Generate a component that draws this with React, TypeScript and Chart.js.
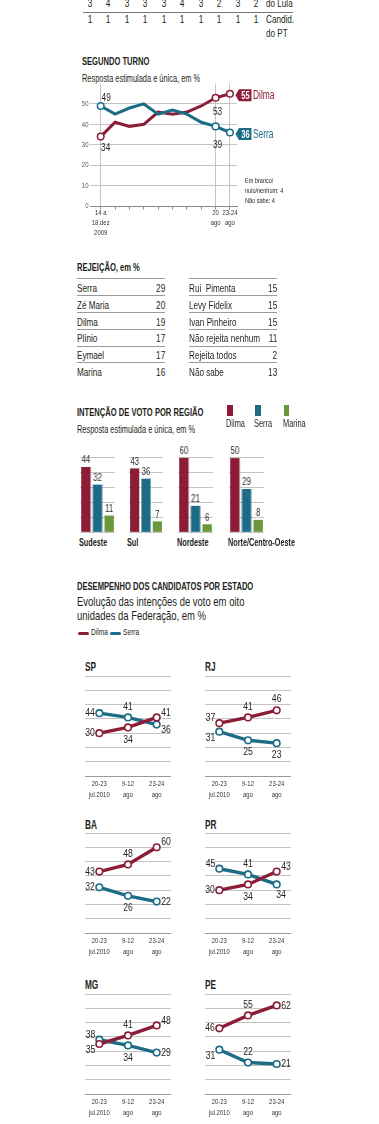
import React, { useEffect, useRef } from "react";
import { Chart, registerables } from "chart.js";

Chart.register(...registerables);

// ---------- DATA ----------
const topRowLula = [3, 4, 3, 3, 3, 4, 3, 2, 3, 2];
const topRowPT = [1, 1, 1, 1, 1, 1, 1, 1, 1, 1];

const turnoDates: (string | string[])[] = [["14 a", "18.dez", "2009"], "", "", "", "", "", "", "", ["20", "ago"], ["23-24", "ago"]];
const turnoDilma = [34, 41, 39, 40, 46, 45, 46, 49, 53, 55];
const turnoSerra = [49, 45, 48, 50, 45, 47, 45, 41, 39, 36];
const turnoYTicks = [0, 10, 20, 30, 40, 50];
const turnoNotes = ["Em branco/", "nulo/nenhum: 4", "Não sabe: 4"];

const rejeicaoLeftNames = ["Serra", "Zé Maria", "Dilma", "Plínio", "Eymael", "Marina"];
const rejeicaoLeftValues = [29, 20, 19, 17, 17, 16];
const rejeicaoRightNames = ["Rui  Pimenta", "Levy Fidelix", "Ivan Pinheiro", "Não rejeita nenhum", "Rejeita todos", "Não sabe"];
const rejeicaoRightValues = [15, 15, 15, 11, 2, 13];

const regioes = ["Sudeste", "Sul", "Nordeste", "Norte/Centro-Oeste"];
const candidatosRegiao = ["Dilma", "Serra", "Marina"];
const regiaoDilma = [44, 43, 60, 50];
const regiaoSerra = [32, 36, 21, 29];
const regiaoMarina = [11, 7, 6, 8];
const regiaoEscalaMax = [51, 51, 61, 51];

const estados = ["SP", "RJ", "BA", "PR", "MG", "PE"];
const estadoDatas = [["20-23", "jul.2010"], ["9-12", "ago"], ["23-24", "ago"]];
const estadoDilma = [[30, 34, 41], [37, 41, 46], [43, 48, 60], [30, 34, 43], [35, 41, 48], [46, 55, 62]];
const estadoSerra = [[44, 41, 36], [31, 25, 23], [32, 26, 22], [45, 41, 34], [38, 34, 29], [31, 22, 21]];
const estadoYTicks = [0, 10, 20, 30, 40, 50, 60, 70];

// ---------- STYLE / LAYOUT ----------
const FONT = "'Liberation Sans', Arial, sans-serif";
const SX_R = 0.74; // horizontal condensing for regular text
const SX_B = 0.66; // for bold text
const SX_D = 0.75; // for digits on canvas
const DILMA = "#8b1d36";
const SERRA = "#1c6c88";
const MARINA = "#6b983c";
const GRID = "#c4c4c4";
const TEXT = "#231f20";
const W = 379;

const estadoPosDilma = [["l", "b", "ru"], ["lu", "a", "a"], ["l", "a", "ru"], ["l", "b", "ru"], ["ld", "a", "ru"], ["l", "a", "r"]];
const estadoPosSerra = [["l", "a", "rd"], ["ld", "b", "b"], ["l", "b", "r"], ["lu", "a", "br"], ["lu", "b", "r"], ["ld", "a", "r"]];
const POS: Record<string, [number, number, CanvasTextAlign]> = {
  l: [-4.5, 0, "right"],
  lu: [-4, -5, "right"],
  ld: [-4, 6, "right"],
  a: [0, -11, "center"],
  b: [0, 12, "center"],
  r: [4.5, 0, "left"],
  ru: [4.5, -5, "left"],
  rd: [4.5, 5, "left"],
  br: [-0.5, 10, "left"],
};

const stateAreaLeft = [85, 205];
const stateAreaTop = [675.5, 833, 993.5];
const regionAreaLeft = [80, 128.5, 178, 229];

function ctext(ctx: CanvasRenderingContext2D, text: string, x: number, y: number, align: CanvasTextAlign, k: number) {
  ctx.save();
  ctx.translate(x, y);
  ctx.scale(k, 1);
  ctx.textAlign = align;
  ctx.fillText(text, 0, 0);
  ctx.restore();
}

function Txt(props: any) {
  const { x, y, s, b, c, lh, align, children, sx } = props;
  const k = sx ?? (b ? SX_B : SX_R);
  const L = (lh ?? 1) * s;
  const top = y - (L / 2 - 0.3825 * s);
  const style: any = {
    position: "absolute",
    top,
    fontSize: s,
    fontWeight: b ? 700 : 400,
    color: c ?? TEXT,
    lineHeight: `${L}px`,
    whiteSpace: "pre",
    fontFamily: FONT,
    transform: `scaleX(${k})`,
  };
  if (align === "right") { style.right = W - x; style.transformOrigin = "right top"; style.textAlign = "right"; }
  else if (align === "center") { style.left = x - 50; style.width = 100; style.textAlign = "center"; style.transformOrigin = "center top"; }
  else { style.left = x; style.transformOrigin = "left top"; }
  return <div style={style}>{children}</div>;
}

function ChartCanvas({ left, top, width, height, config }: any) {
  const ref = useRef<HTMLCanvasElement>(null);
  useEffect(() => {
    const chart = new Chart(ref.current as HTMLCanvasElement, config());
    return () => chart.destroy();
  }, []);
  return (
    <canvas ref={ref} width={width} height={height} style={{ position: "absolute", left, top, width, height }} />
  );
}

// ---------- SEGUNDO TURNO ----------
const isMarked = (i: number) => turnoDates[i] !== "" && turnoDates[i] !== undefined;
const turnoPointLabels = [
  { series: 0, index: 0, dx: 5.5, dy: -8 },
  { series: 1, index: 0, dx: 5, dy: 11 },
  { series: 1, index: 8, dx: 2, dy: 14 },
  { series: 0, index: 8, dx: 2, dy: 18.5 },
];

function turnoConfig() {
  const seriesValues = [turnoSerra, turnoDilma];
  const names = ["Serra", "Dilma"];
  const colors = [SERRA, DILMA];
  const plugin = {
    id: "turnoLabels",
    afterDraw(chart: any) {
      const ctx = chart.ctx;
      const xs = chart.scales.x;
      const ys = chart.scales.y;
      ctx.save();
      ctx.textBaseline = "middle";
      // axis tick labels (from the scales' ticks)
      ctx.fillStyle = "#333";
      ctx.font = `400 8px ${FONT}`;
      xs.ticks.forEach((t: any) => {
        const lab = turnoDates[t.value];
        if (!lab) return;
        const lines = Array.isArray(lab) ? lab : [lab];
        const px = xs.getPixelForValue(t.value);
        lines.forEach((ln, j) => ctext(ctx, ln, px, xs.top + 6.5 + j * 10, "center", SX_R));
      });
      ctx.fillStyle = "#555";
      ys.ticks.forEach((t: any) => {
        ctext(ctx, String(t.value), chart.chartArea.left - 1.5, ys.getPixelForValue(t.value), "right", SX_D);
      });
      // point labels
      ctx.font = `400 11px ${FONT}`;
      ctx.fillStyle = TEXT;
      turnoPointLabels.forEach((p) => {
        const el = chart.getDatasetMeta(p.series).data[p.index];
        ctext(ctx, String(seriesValues[p.series][p.index]), el.x + p.dx, el.y + p.dy, "center", SX_D);
      });
      // end boxes
      seriesValues.forEach((vals, s) => {
        const last = vals.length - 1;
        const el = chart.getDatasetMeta(s).data[last];
        const x0 = el.x + 5.5;
        const cy = el.y + 1.5;
        ctx.fillStyle = colors[s];
        ctx.beginPath();
        ctx.moveTo(x0, cy);
        ctx.lineTo(x0 + 3.5, cy - 6);
        ctx.lineTo(x0 + 16, cy - 6);
        ctx.lineTo(x0 + 16, cy + 6);
        ctx.lineTo(x0 + 3.5, cy + 6);
        ctx.closePath();
        ctx.fill();
        ctx.fillStyle = "#fff";
        ctx.font = `700 11.5px ${FONT}`;
        ctext(ctx, String(vals[last]), x0 + 10, cy + 0.5, "center", SX_B);
        ctx.fillStyle = colors[s];
        ctx.font = `400 12px ${FONT}`;
        ctext(ctx, names[s], x0 + 17.5, cy + 0.5, "left", 0.7);
      });
      ctx.restore();
    },
  };
  return {
    type: "line",
    data: {
      datasets: seriesValues.map((vals, s) => ({
        label: names[s],
        data: vals.map((v, i) => ({ x: i, y: v })),
        borderColor: colors[s],
        borderWidth: 3,
        tension: 0,
        pointRadius: (c: any) => (isMarked(c.dataIndex) ? 3.3 : 0),
        pointBackgroundColor: "#fff",
        pointBorderColor: colors[s],
        pointBorderWidth: 1.5,
      })),
    },
    options: {
      responsive: false,
      animation: false,
      layout: { padding: { left: 0, right: 63, top: 3, bottom: 0 } },
      plugins: { legend: { display: false }, tooltip: { enabled: false } },
      scales: {
        x: {
          type: "linear",
          min: -0.745,
          max: 9.49,
          afterBuildTicks: (a: any) => { a.ticks = turnoDates.map((_, i) => ({ value: i })); },
          afterFit: (s: any) => { s.height = 47; },
          ticks: { display: false },
          grid: {
            color: (c: any) => (c.tick && isMarked(c.tick.value) ? GRID : "rgba(0,0,0,0)"),
            tickColor: "#8a8a8a",
            tickLength: 3.5,
            lineWidth: 1,
          },
          border: { display: true, color: "#8a8a8a" },
        },
        y: {
          min: 0,
          max: 60,
          afterBuildTicks: (a: any) => { a.ticks = turnoYTicks.map((v) => ({ value: v })); },
          afterFit: (s: any) => { s.width = 20; },
          ticks: { display: false },
          grid: { color: GRID, drawTicks: false },
          border: { display: false },
        },
      },
    },
    plugins: [plugin],
  };
}

// ---------- REGION BARS ----------
function regionConfig(r: number) {
  const values = [regiaoDilma[r], regiaoSerra[r], regiaoMarina[r]];
  const max = regiaoEscalaMax[r];
  const plugin = {
    id: "barValues" + r,
    afterDatasetsDraw(chart: any) {
      const ctx = chart.ctx;
      ctx.save();
      ctx.font = `400 10.5px ${FONT}`;
      ctx.fillStyle = TEXT;
      ctx.textBaseline = "alphabetic";
      chart.getDatasetMeta(0).data.forEach((el: any, i: number) => {
        ctext(ctx, String(values[i]), el.x, el.y - 4, "center", 0.72);
      });
      ctx.restore();
    },
  };
  return {
    type: "bar",
    data: {
      labels: candidatosRegiao,
      datasets: [{ data: values, backgroundColor: [DILMA, SERRA, MARINA], barThickness: 8.5 }],
    },
    options: {
      responsive: false,
      animation: false,
      layout: { padding: { left: 2, right: 2, top: 17, bottom: 3 } },
      plugins: { legend: { display: false }, tooltip: { enabled: false } },
      scales: {
        x: { display: false },
        y: {
          min: 0,
          max,
          afterBuildTicks: (a: any) => { a.ticks = [0, 1, 2, 3, 4, 5].map((k) => ({ value: (max * k) / 5 })); },
          afterFit: (s: any) => { s.width = 0; },
          ticks: { display: false },
          grid: { color: GRID, drawTicks: false },
          border: { display: false },
        },
      },
    },
    plugins: [plugin],
  };
}

// ---------- STATES ----------
function stateConfig(k: number) {
  const series = [estadoDilma[k], estadoSerra[k]];
  const colors = [DILMA, SERRA];
  const pos = [estadoPosDilma[k], estadoPosSerra[k]];
  const plugin = {
    id: "stateLabels" + k,
    afterDraw(chart: any) {
      const ctx = chart.ctx;
      const xs = chart.scales.x;
      ctx.save();
      ctx.textBaseline = "middle";
      ctx.font = `400 8px ${FONT}`;
      ctx.fillStyle = "#333";
      xs.ticks.forEach((t: any) => {
        const lines = estadoDatas[t.value];
        if (!lines) return;
        const px = xs.getPixelForValue(t.value);
        lines.forEach((ln, j) => ctext(ctx, ln, px, chart.chartArea.bottom + 7.5 + j * 11, "center", SX_R));
      });
      ctx.font = `400 11.5px ${FONT}`;
      ctx.fillStyle = TEXT;
      series.forEach((vals, s) => {
        chart.getDatasetMeta(s).data.forEach((el: any, i: number) => {
          const [dx, dy, al] = POS[pos[s][i]];
          ctext(ctx, String(vals[i]), el.x + dx, el.y + dy, al, SX_D);
        });
      });
      ctx.restore();
    },
  };
  return {
    type: "line",
    data: {
      datasets: series.map((vals, s) => ({
        data: vals.map((v, i) => ({ x: i, y: v })),
        borderColor: colors[s],
        borderWidth: 3.4,
        tension: 0,
        pointRadius: 3.3,
        pointBackgroundColor: "#fff",
        pointBorderColor: colors[s],
        pointBorderWidth: 1.6,
      })),
    },
    options: {
      responsive: false,
      animation: false,
      layout: { padding: { left: 12, right: 12, top: 14, bottom: 0 } },
      plugins: { legend: { display: false }, tooltip: { enabled: false } },
      scales: {
        x: {
          type: "linear",
          min: -0.5,
          max: 2.5,
          afterBuildTicks: (a: any) => { a.ticks = estadoDatas.map((_, i) => ({ value: i })); },
          afterFit: (s: any) => { s.height = 30; },
          ticks: { display: false },
          grid: { display: false },
          border: { display: false },
        },
        y: {
          min: 0,
          max: 70,
          afterBuildTicks: (a: any) => { a.ticks = estadoYTicks.map((v) => ({ value: v })); },
          afterFit: (s: any) => { s.width = 0; },
          ticks: { display: false },
          grid: { color: (c: any) => (c.tick && c.tick.value === 0 ? "#9a9a9a" : GRID), drawTicks: false },
          border: { display: false },
        },
      },
    },
    plugins: [plugin],
  };
}

export default function App() {
  useEffect(() => {
    document.body.style.margin = "0";
  }, []);

  const rowTop = (i: number) => 278.3 + i * 16.8;

  return (
    <div
      style={{
        position: "absolute",
        left: 0,
        top: 0,
        width: W,
        height: 1124,
        overflow: "hidden",
        background: "#fff",
        fontFamily: FONT,
        color: TEXT,
      }}
    >
      {/* top table fragment */}
      {topRowLula.map((v, i) => (
        <Txt key={"l" + i} x={90 + i * 18.45} y={-0.5} s={11} align="center" sx={SX_D}>{String(v)}</Txt>
      ))}
      <Txt x={266} y={-0.5} s={11}>do Lula</Txt>
      <div style={{ position: "absolute", left: 83, top: 12, width: 210, height: 1, background: "#777" }} />
      {topRowPT.map((v, i) => (
        <Txt key={"p" + i} x={90 + i * 18.45} y={15} s={11} align="center" sx={SX_D}>{String(v)}</Txt>
      ))}
      <Txt x={266} y={15} s={11}>Candid.</Txt>
      <Txt x={266} y={29.5} s={11}>do PT</Txt>

      {/* segundo turno */}
      <Txt x={81.5} y={57} s={11.5} b>SEGUNDO TURNO</Txt>
      <Txt x={81.5} y={75} s={10}>Resposta estimulada e única, em %</Txt>
      <ChartCanvas left={70} top={78} width={230} height={175} config={turnoConfig} />
      {turnoNotes.map((t, i) => (
        <Txt key={t} x={245} y={178 + i * 10} s={7.5}>{t}</Txt>
      ))}

      {/* rejeição */}
      <Txt x={77} y={263.5} s={11.5} b>REJEIÇÃO, em %</Txt>
      {rejeicaoLeftNames.map((n, i) => (
        <React.Fragment key={n}>
          <div style={{ position: "absolute", left: 77, top: rowTop(i), width: 88, height: 1, background: "#9a9a9a" }} />
          <Txt x={77} y={rowTop(i) + 6} s={11}>{n}</Txt>
          <Txt x={165} y={rowTop(i) + 6} s={11} align="right" sx={SX_D}>{String(rejeicaoLeftValues[i])}</Txt>
        </React.Fragment>
      ))}
      {rejeicaoRightNames.map((n, i) => (
        <React.Fragment key={n}>
          <div style={{ position: "absolute", left: 189, top: rowTop(i), width: 88, height: 1, background: "#9a9a9a" }} />
          <Txt x={189} y={rowTop(i) + 6} s={11}>{n}</Txt>
          <Txt x={277} y={rowTop(i) + 6} s={11} align="right" sx={SX_D}>{String(rejeicaoRightValues[i])}</Txt>
        </React.Fragment>
      ))}

      {/* intenção por região */}
      <Txt x={77} y={408.5} s={11.5} b>INTENÇÃO DE VOTO POR REGIÃO</Txt>
      <Txt x={77} y={426.5} s={10}>Resposta estimulada e única, em %</Txt>
      {candidatosRegiao.map((c, i) => (
        <React.Fragment key={c}>
          <div
            style={{
              position: "absolute",
              left: 227 + i * 28.3,
              top: 405,
              width: 5.7,
              height: 11,
              background: [DILMA, SERRA, MARINA][i],
            }}
          />
          <Txt x={226 + i * 28.3} y={420} s={10}>{c}</Txt>
        </React.Fragment>
      ))}
      {regioes.map((r, i) => (
        <React.Fragment key={r}>
          <ChartCanvas left={regionAreaLeft[i] - 2} top={440} width={38.5} height={95} config={() => regionConfig(i)} />
          <Txt x={regionAreaLeft[i] - 1.5} y={538.5} s={11} b>{r}</Txt>
        </React.Fragment>
      ))}

      {/* desempenho por estado */}
      <Txt x={77} y={582} s={11.5} b>DESEMPENHO DOS CANDIDATOS POR ESTADO</Txt>
      <Txt x={77} y={597} s={12.8} lh={1.06}>{"Evolução das intenções de voto em oito\nunidades da Federação, em %"}</Txt>
      <div style={{ position: "absolute", left: 78, top: 631.5, width: 11, height: 3, background: DILMA, borderRadius: 1.5 }} />
      <Txt x={91} y={629.5} s={9}>Dilma</Txt>
      <div style={{ position: "absolute", left: 110, top: 631.5, width: 11, height: 3, background: SERRA, borderRadius: 1.5 }} />
      <Txt x={122.5} y={629.5} s={9}>Serra</Txt>

      {estados.map((st, k) => {
        const col = k % 2;
        const row = Math.floor(k / 2);
        const ax = stateAreaLeft[col];
        const ay = stateAreaTop[row];
        return (
          <React.Fragment key={st}>
            <Txt x={ax} y={ay - 13} s={12.5} b>{st}</Txt>
            <ChartCanvas left={ax - 12} top={ay - 14} width={86 + 24} height={14 + 100 + 30} config={() => stateConfig(k)} />
          </React.Fragment>
        );
      })}
    </div>
  );
}
